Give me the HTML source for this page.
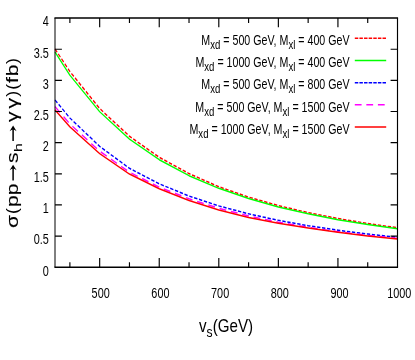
<!DOCTYPE html>
<html><head><meta charset="utf-8"><title>plot</title>
<style>html,body{margin:0;padding:0;background:#fff;overflow:hidden;width:415px;height:360px;}svg text{white-space:pre;}svg{will-change:transform;}</style></head>
<body>
<svg width="415" height="360" viewBox="0 0 415 360" style="display:block">
<rect x="0" y="0" width="415" height="360" fill="#fff"/>
<g transform="scale(0.77 1)">
<path d="M71.43 48.93 L90.77 71.51 L129.45 108.50 L168.13 136.27 L206.80 157.28 L245.48 173.58 L284.16 186.74 L322.84 197.11 L361.52 205.60 L400.20 212.63 L438.88 218.53 L477.56 223.51 L516.23 227.77" fill="none" stroke="#ff0000" stroke-width="1.5" stroke-linejoin="round" stroke-dasharray="4.3 2.2"/>
<path d="M71.43 52.04 L90.77 75.28 L129.45 111.75 L168.13 139.18 L206.80 159.70 L245.48 175.67 L284.16 188.34 L322.84 198.56 L361.52 206.93 L400.20 213.86 L438.88 219.67 L477.56 224.59 L516.23 228.79" fill="none" stroke="#00ff00" stroke-width="1.5" stroke-linejoin="round"/>
<path d="M71.43 99.93 L90.77 118.00 L129.45 146.35 L168.13 168.32 L206.80 183.82 L245.48 196.04 L284.16 205.89 L322.84 213.84 L361.52 220.34 L400.20 225.73 L438.88 230.25 L477.56 234.07 L516.23 237.34" fill="none" stroke="#0000ff" stroke-width="1.5" stroke-linejoin="round" stroke-dasharray="4.3 2.2"/>
<path d="M71.43 106.59 L90.77 123.94 L129.45 151.16 L168.13 172.20 L206.80 187.12 L245.48 198.84 L284.16 208.30 L322.84 215.93 L361.52 222.17 L400.20 227.35 L438.88 231.69 L477.56 235.36 L516.23 238.49" fill="none" stroke="#ff00ff" stroke-width="1.5" stroke-linejoin="round" stroke-dasharray="8.8 6.2"/>
<path d="M71.43 109.89 L90.77 126.89 L129.45 153.55 L168.13 174.07 L206.80 188.77 L245.48 200.55 L284.16 209.96 L322.84 217.39 L361.52 223.15 L400.20 228.07 L438.88 232.32 L477.56 235.92 L516.23 239.04" fill="none" stroke="#ff0000" stroke-width="1.5" stroke-linejoin="round"/>
</g>
<g stroke="#000" fill="none">
<path d="M54.425 18.1 H398.075 M54.425 267.2 H398.075" stroke-width="1.5"/>
<path d="M55.0 18.1 V267.2" stroke-width="1.0"/>
<path d="M397.5 18.1 V267.2" stroke-width="1.15"/>
<path d="M69.89 267.2 v-4.9 M69.89 18.1 v4.9 M99.67 267.2 v-9.2 M99.67 18.1 v9.2 M129.46 267.2 v-4.9 M129.46 18.1 v4.9 M159.24 267.2 v-9.2 M159.24 18.1 v9.2 M189.02 267.2 v-4.9 M189.02 18.1 v4.9 M218.80 267.2 v-9.2 M218.80 18.1 v9.2 M248.59 267.2 v-4.9 M248.59 18.1 v4.9 M278.37 267.2 v-9.2 M278.37 18.1 v9.2 M308.15 267.2 v-4.9 M308.15 18.1 v4.9 M337.93 267.2 v-9.2 M337.93 18.1 v9.2 M367.72 267.2 v-4.9 M367.72 18.1 v4.9 " stroke-width="1.15"/>
<path d="M55.0 236.06 h6.9 M397.5 236.06 h-6.9 M55.0 204.92 h6.9 M397.5 204.92 h-6.9 M55.0 173.79 h6.9 M397.5 173.79 h-6.9 M55.0 142.65 h6.9 M397.5 142.65 h-6.9 M55.0 111.51 h6.9 M397.5 111.51 h-6.9 M55.0 80.38 h6.9 M397.5 80.38 h-6.9 M55.0 49.24 h6.9 M397.5 49.24 h-6.9 " stroke-width="1.2"/>
</g>
<text transform="translate(100.67 298.00) scale(0.75 1)" font-family="Liberation Sans, sans-serif" font-size="14.5" text-anchor="middle" fill="#000">500</text>
<text transform="translate(160.40 298.00) scale(0.75 1)" font-family="Liberation Sans, sans-serif" font-size="14.5" text-anchor="middle" fill="#000">600</text>
<text transform="translate(220.12 298.00) scale(0.75 1)" font-family="Liberation Sans, sans-serif" font-size="14.5" text-anchor="middle" fill="#000">700</text>
<text transform="translate(279.85 298.00) scale(0.75 1)" font-family="Liberation Sans, sans-serif" font-size="14.5" text-anchor="middle" fill="#000">800</text>
<text transform="translate(339.57 298.00) scale(0.75 1)" font-family="Liberation Sans, sans-serif" font-size="14.5" text-anchor="middle" fill="#000">900</text>
<text transform="translate(399.30 298.00) scale(0.75 1)" font-family="Liberation Sans, sans-serif" font-size="14.5" text-anchor="middle" fill="#000">1000</text>
<text transform="translate(48.90 275.50) scale(0.75 1)" font-family="Liberation Sans, sans-serif" font-size="14.5" text-anchor="end" fill="#000">0</text>
<text transform="translate(48.90 244.36) scale(0.75 1)" font-family="Liberation Sans, sans-serif" font-size="14.5" text-anchor="end" fill="#000">0.5</text>
<text transform="translate(48.90 213.22) scale(0.75 1)" font-family="Liberation Sans, sans-serif" font-size="14.5" text-anchor="end" fill="#000">1</text>
<text transform="translate(48.90 182.09) scale(0.75 1)" font-family="Liberation Sans, sans-serif" font-size="14.5" text-anchor="end" fill="#000">1.5</text>
<text transform="translate(48.90 150.95) scale(0.75 1)" font-family="Liberation Sans, sans-serif" font-size="14.5" text-anchor="end" fill="#000">2</text>
<text transform="translate(48.90 119.81) scale(0.75 1)" font-family="Liberation Sans, sans-serif" font-size="14.5" text-anchor="end" fill="#000">2.5</text>
<text transform="translate(48.90 88.67) scale(0.75 1)" font-family="Liberation Sans, sans-serif" font-size="14.5" text-anchor="end" fill="#000">3</text>
<text transform="translate(48.90 57.54) scale(0.75 1)" font-family="Liberation Sans, sans-serif" font-size="14.5" text-anchor="end" fill="#000">3.5</text>
<text transform="translate(48.90 26.40) scale(0.75 1)" font-family="Liberation Sans, sans-serif" font-size="14.5" text-anchor="end" fill="#000">4</text>
<text transform="translate(349.60 45.00) scale(0.736 1)" font-family="Liberation Sans, sans-serif" font-size="14.5" text-anchor="end" fill="#000">M<tspan font-size="13.05" dy="4.0">xd</tspan><tspan dy="-4.0"> </tspan>= 500 GeV, M<tspan font-size="13.05" dy="4.0">xl</tspan><tspan dy="-4.0"> </tspan>= 400 GeV</text>
<path transform="scale(0.77 1)" d="M460.78 38.30 H501.56" stroke="#ff0000" stroke-width="1.5" fill="none" stroke-dasharray="4.5 1.5"/>
<text transform="translate(349.60 67.18) scale(0.736 1)" font-family="Liberation Sans, sans-serif" font-size="14.5" text-anchor="end" fill="#000">M<tspan font-size="13.05" dy="4.0">xd</tspan><tspan dy="-4.0"> </tspan>= 1000 GeV, M<tspan font-size="13.05" dy="4.0">xl</tspan><tspan dy="-4.0"> </tspan>= 400 GeV</text>
<path transform="scale(0.77 1)" d="M460.78 60.48 H501.56" stroke="#00ff00" stroke-width="1.5" fill="none"/>
<text transform="translate(349.60 89.36) scale(0.736 1)" font-family="Liberation Sans, sans-serif" font-size="14.5" text-anchor="end" fill="#000">M<tspan font-size="13.05" dy="4.0">xd</tspan><tspan dy="-4.0"> </tspan>= 500 GeV, M<tspan font-size="13.05" dy="4.0">xl</tspan><tspan dy="-4.0"> </tspan>= 800 GeV</text>
<path transform="scale(0.77 1)" d="M460.78 82.66 H501.56" stroke="#0000ff" stroke-width="1.5" fill="none" stroke-dasharray="4.5 1.5"/>
<text transform="translate(349.60 111.54) scale(0.736 1)" font-family="Liberation Sans, sans-serif" font-size="14.5" text-anchor="end" fill="#000">M<tspan font-size="13.05" dy="4.0">xd</tspan><tspan dy="-4.0"> </tspan>= 500 GeV, M<tspan font-size="13.05" dy="4.0">xl</tspan><tspan dy="-4.0"> </tspan>= 1500 GeV</text>
<path transform="scale(0.77 1)" d="M460.78 104.84 H501.56" stroke="#ff00ff" stroke-width="1.5" fill="none" stroke-dasharray="8.8 6.2"/>
<text transform="translate(349.60 133.72) scale(0.736 1)" font-family="Liberation Sans, sans-serif" font-size="14.5" text-anchor="end" fill="#000">M<tspan font-size="13.05" dy="4.0">xd</tspan><tspan dy="-4.0"> </tspan>= 1000 GeV, M<tspan font-size="13.05" dy="4.0">xl</tspan><tspan dy="-4.0"> </tspan>= 1500 GeV</text>
<path transform="scale(0.77 1)" d="M460.78 127.02 H501.56" stroke="#ff0000" stroke-width="1.5" fill="none"/>
<text transform="translate(199.0 331.6) scale(0.842 1)" font-family="Liberation Sans, sans-serif" font-size="18" fill="#000">v<tspan font-size="14.4" dy="5.4">s</tspan><tspan dy="-5.4">(GeV)</tspan></text>
<g stroke="#000" stroke-width="0.1">
<text transform="translate(18.30 228.00) rotate(-90) scale(1.28 1)" font-family="Liberation Sans, sans-serif" font-size="16.5" fill="#000">σ</text>
<text transform="translate(18.30 214.00) rotate(-90) scale(1.08 1)" font-family="Liberation Sans, sans-serif" font-size="16.5" fill="#000" stroke="none">(</text>
<text transform="translate(18.30 207.00) rotate(-90) scale(1.28 1)" font-family="Liberation Sans, sans-serif" font-size="16.5" fill="#000">p</text>
<text transform="translate(18.30 195.30) rotate(-90) scale(1.28 1)" font-family="Liberation Sans, sans-serif" font-size="16.5" fill="#000">p</text>
<text transform="translate(18.30 162.90) rotate(-90) scale(1.28 1)" font-family="Liberation Sans, sans-serif" font-size="16.5" fill="#000">s</text>
<text transform="translate(22.20 152.00) rotate(-90) scale(1.5 1)" font-family="Liberation Sans, sans-serif" font-size="10.56" fill="#000">h</text>
<text transform="translate(18.30 122.00) rotate(-90) scale(1.28 1)" font-family="Liberation Sans, sans-serif" font-size="16.5" fill="#000">γ</text>
<text transform="translate(18.30 108.40) rotate(-90) scale(1.28 1)" font-family="Liberation Sans, sans-serif" font-size="16.5" fill="#000">γ</text>
<text transform="translate(18.30 96.70) rotate(-90) scale(1.08 1)" font-family="Liberation Sans, sans-serif" font-size="16.5" fill="#000" stroke="none">)</text>
<text transform="translate(18.30 89.80) rotate(-90) scale(1.08 1)" font-family="Liberation Sans, sans-serif" font-size="16.5" fill="#000" stroke="none">(</text>
<text transform="translate(18.30 83.00) rotate(-90) scale(1.28 1)" font-family="Liberation Sans, sans-serif" font-size="16.5" fill="#000">f</text>
<text transform="translate(18.30 76.30) rotate(-90) scale(1.28 1)" font-family="Liberation Sans, sans-serif" font-size="16.5" fill="#000">b</text>
<text transform="translate(18.30 64.00) rotate(-90) scale(1.08 1)" font-family="Liberation Sans, sans-serif" font-size="16.5" fill="#000" stroke="none">)</text>
</g>
<path d="M13.1 180.6 V166.7" stroke="#000" stroke-width="1.5" fill="none"/><path d="M13.1 164.7 L16.6 170.29999999999998 Q14.5 168.7 13.1 168.6 Q11.7 168.7 9.6 170.29999999999998 Z" fill="#000"/>
<path d="M13.1 141.1 V127.6" stroke="#000" stroke-width="1.5" fill="none"/><path d="M13.1 125.6 L16.6 131.2 Q14.5 129.6 13.1 129.5 Q11.7 129.6 9.6 131.2 Z" fill="#000"/>
</svg>
</body></html>
